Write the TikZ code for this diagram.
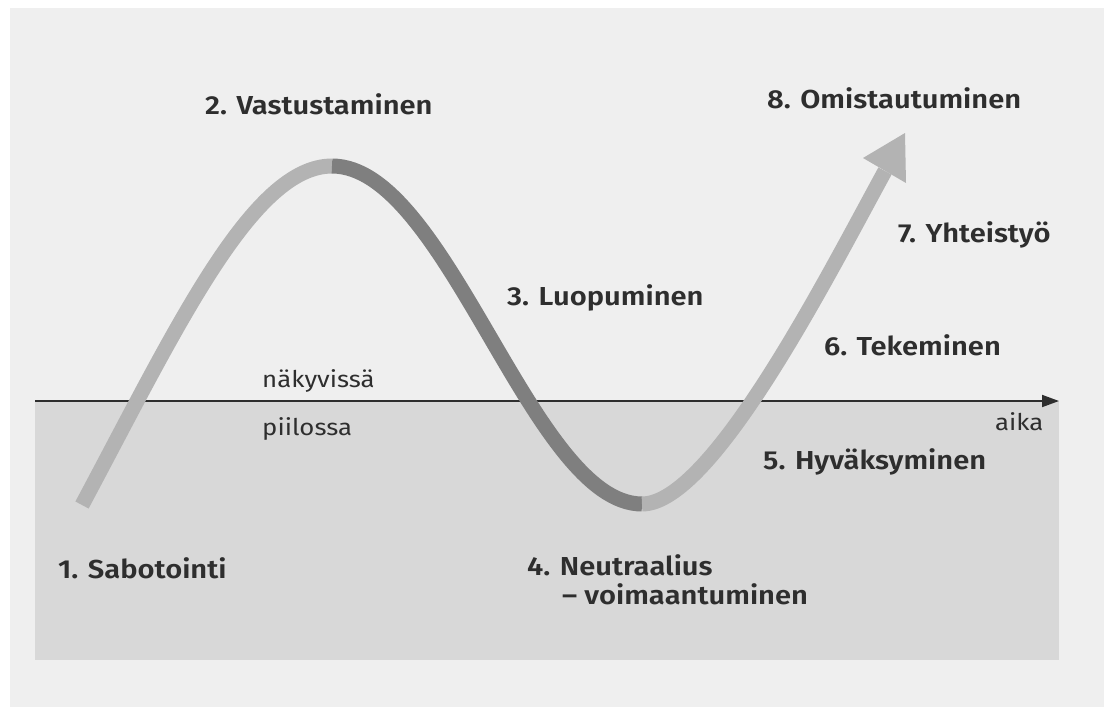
\documentclass[tikz,border=0pt]{standalone}
\usepackage{fontspec}
\setmainfont{Fira Sans}[BoldFont={Fira Sans SemiBold}, FakeStretch=1.12]
\usetikzlibrary{arrows.meta}
\definecolor{pagebg}{HTML}{EFEFEF}
\definecolor{hidden}{HTML}{D8D8D8}
\definecolor{lightcurve}{HTML}{B3B3B3}
\definecolor{darkcurve}{HTML}{7F7F7F}
\definecolor{inkc}{HTML}{2E2E2E}
\tikzset{
  stage/.style={anchor=base west, inner sep=0pt, text=inkc, font=\fontsize{26}{31}\selectfont\bfseries},
  side/.style={anchor=base west, inner sep=0pt, text=inkc, font=\fontsize{23}{28}\selectfont},
  curvelight/.style={draw=lightcurve, line width=15pt, line cap=butt},
  curvedark/.style={draw=darkcurve, line width=15pt, line cap=butt},
  axisline/.style={draw=inkc, line width=1.8pt, -{Triangle[length=17pt,width=12pt]}}
}
\begin{document}
\begin{tikzpicture}[x=1pt,y=-1pt]
\useasboundingbox (0,0) rectangle (1104,707);
\fill[white] (0,0) rectangle (1104,707);
\fill[pagebg] (10,8) rectangle (1104,707);
\fill[hidden] (35,401) rectangle (1059,660);
% axis
\coordinate (ax0) at (35,401);
\coordinate (ax1) at (1059,401);
\draw[axisline] (ax0) -- (ax1);
% curve
\coordinate (start) at (82,505);
\coordinate (peak) at (332,166);
\coordinate (trough) at (642,504);
\coordinate (shaftend) at (885,171);
\coordinate (tip) at (905,133);
\coordinate (barbL) at (863,158);
\coordinate (barbR) at (906,183);
\draw[curvelight] (start) .. controls (176,329) and (252,166) .. (peak);
\draw[curvedark] (peak) .. controls (447,166) and (532,504) .. (trough);
\draw[curvelight] (trough) .. controls (712,504) and (827,277) .. (shaftend);
\fill[lightcurve] (barbL) -- (tip) -- (barbR) -- cycle;
% labels
\node[stage] (s1) at (58,578) {1. Sabotointi};
\node[stage] (s2) at (205,114) {2. Vastustaminen};
\node[stage] (s3) at (507,305) {3. Luopuminen};
\node[stage] (s4) at (527,575) {4. Neutraalius};
\node[stage] (s4b) at (562,604) {– voimaantuminen};
\node[stage] (s5) at (763,469) {5. Hyväksyminen};
\node[stage] (s6) at (824,355) {6. Tekeminen};
\node[stage] (s7) at (898,242) {7. Yhteistyö};
\node[stage] (s8) at (767,108) {8. Omistautuminen};
\node[side] (vis) at (262,387) {näkyvissä};
\node[side] (hid) at (262,435) {piilossa};
\node[side] (time) at (995,430) {aika};
\end{tikzpicture}
\end{document}
